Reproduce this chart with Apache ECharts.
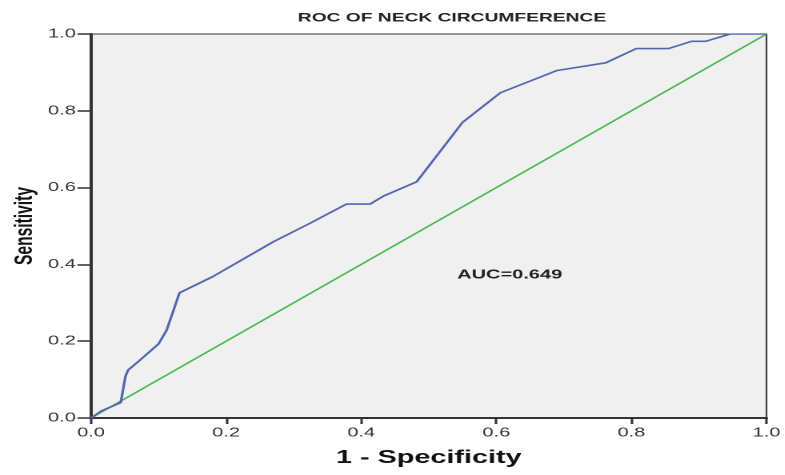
<!DOCTYPE html>
<html>
<head>
<meta charset="utf-8">
<script src="https://cdn.jsdelivr.net/npm/echarts@6/dist/echarts.min.js"></script>
<style>
  html, body { margin: 0; padding: 0; background: #ffffff; overflow: hidden; }
  /* the chart is drawn in a narrower box and stretched sideways, giving the wide lettering */
  #chart { width: 490.625px; height: 475px; transform: scaleX(1.6); transform-origin: 0 0; }
</style>
</head>
<body>
<div id="chart"></div>
<script>
// ROC curve points: false positive rate (1 - specificity) and sensitivity
const fpr = [0, 0.015, 0.044, 0.051, 0.055, 0.070, 0.100, 0.112, 0.131, 0.180, 0.270, 0.324, 0.378, 0.413, 0.433, 0.482, 0.550, 0.606, 0.690, 0.762, 0.807, 0.855, 0.889, 0.910, 0.946, 1];
const tpr = [0, 0.018, 0.040, 0.109, 0.125, 0.147, 0.193, 0.229, 0.326, 0.368, 0.459, 0.507, 0.557, 0.557, 0.578, 0.615, 0.770, 0.847, 0.905, 0.925, 0.962, 0.962, 0.981, 0.981, 1.000, 1];
// reference (chance) line
const refX = [0, 1];
const refY = [0, 1];
const aucText = 'AUC=0.649';
const aucPos = [0.542, 0.372];

const chart = echarts.init(document.getElementById('chart'), null, { renderer: 'canvas', devicePixelRatio: 2 });
const font = '"Liberation Sans", Arial, sans-serif';

const axisCommon = {
  type: 'value', min: 0, max: 1, interval: 0.2,
  axisLine: { show: true, lineStyle: { color: '#333', width: 2 } },
  splitLine: { show: false },
  axisLabel: { color: '#333', fontFamily: font, fontSize: 12.5, formatter: v => v.toFixed(1) },
  nameTextStyle: { color: '#111', fontFamily: font, fontWeight: 'bold' },
  nameMoveOverlap: false
};

chart.setOption({
  animation: false,
  title: {
    text: 'ROC OF NECK CIRCUMFERENCE',
    left: 277.5, top: 7, textAlign: 'center',
    textStyle: { fontFamily: font, fontWeight: 'bold', fontSize: 12, color: '#222' }
  },
  grid: {
    left: 56.9, right: 11.9, top: 34, bottom: 57,
    outerBoundsMode: 'none', containLabel: false,
    show: true, backgroundColor: '#f0f0f0', borderColor: '#333', borderWidth: 1
  },
  xAxis: Object.assign({}, axisCommon, {
    name: '1 - Specificity', nameLocation: 'middle', nameGap: 31,
    nameTextStyle: Object.assign({}, axisCommon.nameTextStyle, { fontSize: 18 }),
    axisTick: { show: true, length: 6, lineStyle: { color: '#333', width: 1.5 } },
    axisLabel: Object.assign({}, axisCommon.axisLabel, { margin: 8.5 })
  }),
  yAxis: Object.assign({}, axisCommon, {
    name: 'Sensitivity', nameLocation: 'middle', nameGap: 33, nameRotate: 90,
    nameTextStyle: Object.assign({}, axisCommon.nameTextStyle, { fontSize: 15.6 }),
    axisTick: { show: true, length: 8.5, lineStyle: { color: '#333', width: 1.5 } },
    axisLabel: Object.assign({}, axisCommon.axisLabel, { margin: 9.5 })
  }),
  series: [
    {
      type: 'line', data: refX.map((x, i) => [x, refY[i]]),
      symbol: 'none', lineStyle: { color: '#45b84c', width: 1.4 }, z: 2
    },
    {
      type: 'line', data: fpr.map((x, i) => [x, tpr[i]]),
      symbol: 'none', lineStyle: { color: '#5266b0', width: 1.6 }, z: 3
    }
  ]
});

// AUC annotation placed in data coordinates
const p = chart.convertToPixel({ gridIndex: 0 }, aucPos);
chart.setOption({
  graphic: [{
    type: 'text', x: p[0], y: p[1], z: 10,
    style: { text: aucText, fill: '#222', font: 'bold 12.5px ' + font, textAlign: 'left', textVerticalAlign: 'middle' }
  }]
});
</script>
</body>
</html>
